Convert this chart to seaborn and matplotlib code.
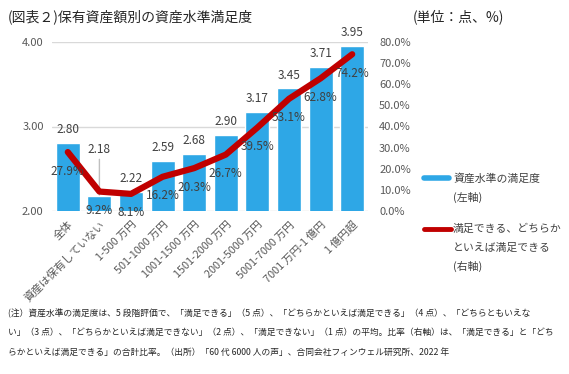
import numpy as np
import matplotlib
matplotlib.use('Agg')
import matplotlib.pyplot as plt
from matplotlib.lines import Line2D
import seaborn as sns

# data
categories = ['全体', '資産は保有していない', '1-500 万円', '501-1000 万円',
              '1001-1500 万円', '1501-2000 万円', '2001-5000 万円',
              '5001-7000 万円', '7001 万円-1 億円', '1 億円超']
scores = [2.80, 2.18, 2.22, 2.59, 2.68, 2.90, 3.17, 3.45, 3.71, 3.95]
ratios = [27.9, 9.2, 8.1, 16.2, 20.3, 26.7, 39.5, 53.1, 62.8, 74.2]

sns.set_theme(style='white')
plt.rcParams['font.family'] = ['Noto Sans CJK JP', 'DejaVu Sans']

BLUE = '#2EA7E6'
RED = '#C00000'
GRAY = '#404040'

fig = plt.figure(figsize=(5.69, 3.74), dpi=100)
ax = fig.add_axes([52 / 569, 1 - 211 / 374, 316 / 569, 169 / 374])

sns.barplot(x=categories, y=scores, ax=ax, color=BLUE, saturation=1,
            width=0.76, zorder=2)
ax.set_ylim(2.0, 4.0)
ax.set_xlim(-0.5, len(categories) - 0.5)
ax.set_yticks([2.0, 3.0, 4.0])
ax.set_yticklabels([f'{v:.2f}' for v in [2.0, 3.0, 4.0]], color='#595959', fontsize=8)
ax.yaxis.grid(True, color='#D9D9D9', linewidth=1)
ax.set_axisbelow(True)
for s in ax.spines.values():
    s.set_visible(False)
ax.set_xlabel('')
ax.set_ylabel('')
ax.tick_params(axis='both', length=0, pad=6)
ax.set_xticks(range(len(categories)))
ax.set_xticklabels(categories, rotation=45, ha='right', rotation_mode='anchor',
                   color='#595959', fontsize=7.8)

# bar value labels
for i, v in enumerate(scores):
    if i == 1:
        ax.annotate(f'{v:.2f}', xy=(i, v + 0.01), xytext=(0, 28),
                    textcoords='offset points', ha='center', va='bottom',
                    fontsize=8.5, color=GRAY,
                    arrowprops=dict(arrowstyle='-', color='#BFBFBF', lw=1,
                                    shrinkA=0, shrinkB=0))
    else:
        ax.annotate(f'{v:.2f}', xy=(i, v), xytext=(0, 5),
                    textcoords='offset points', ha='center', va='bottom',
                    fontsize=8.5, color=GRAY)

ax2 = ax.twinx()
sns.lineplot(x=np.arange(len(ratios)), y=ratios, ax=ax2, color=RED,
             linewidth=4.5, solid_capstyle='round', zorder=3)
ax2.set_ylim(0, 80)
ax2.set_yticks(np.arange(0, 81, 10))
ax2.set_yticklabels([f'{v:.1f}%' for v in np.arange(0, 81, 10)],
                    color='#595959', fontsize=8)
ax2.tick_params(axis='y', length=0, pad=8)
for s in ax2.spines.values():
    s.set_visible(False)
ax2.set_ylabel('')

for i, r in enumerate(ratios):
    ax2.annotate(f'{r:.1f}%', xy=(i, r), xytext=(0, -9),
                 textcoords='offset points', ha='center', va='top',
                 fontsize=8.5, color=GRAY, zorder=4)

# title and unit
fig.text(8 / 569, 1 - 17 / 374, '(図表２)保有資産額別の資産水準満足度',
         fontsize=10, color='#262626', va='center', ha='left')
fig.text(413 / 569, 1 - 17 / 374, '(単位：点、%)',
         fontsize=10, color='#262626', va='center', ha='left')

# legend drawn by hand
fig.add_artist(Line2D([424 / 569, 449 / 569], [1 - 178 / 374] * 2,
                      color=BLUE, linewidth=4, transform=fig.transFigure))
fig.text(453 / 569, 1 - 178 / 374, '資産水準の満足度', fontsize=7.8,
         color='#404040', va='center')
fig.text(453 / 569, 1 - 197 / 374, '(左軸)', fontsize=7.8,
         color='#404040', va='center')
fig.add_artist(Line2D([424 / 569, 451 / 569], [1 - 229 / 374] * 2,
                      color=RED, linewidth=3.5, transform=fig.transFigure))
fig.text(453 / 569, 1 - 229 / 374, '満足できる、どちらか', fontsize=7.8,
         color='#404040', va='center')
fig.text(453 / 569, 1 - 248 / 374, 'といえば満足できる', fontsize=7.8,
         color='#404040', va='center')
fig.text(453 / 569, 1 - 266 / 374, '(右軸)', fontsize=7.8,
         color='#404040', va='center')

# footnote
notes = [
    '(注）資産水準の満足度は、5 段階評価で、「満足できる」（5 点）、「どちらかといえば満足できる」（4 点）、「どちらともいえな',
    'い」（3 点）、「どちらかといえば満足できない」（2 点）、「満足できない」（1 点）の平均。比率（右軸）は、「満足できる」と「どち',
    'らかといえば満足できる」の合計比率。（出所）「60 代 6000 人の声」、合同会社フィンウェル研究所、2022 年',
]
for k, line in enumerate(notes):
    fig.text(8 / 569, 1 - (313 + 19.5 * k) / 374, line, fontsize=6.3,
             color='#262626', va='center', ha='left')

fig.savefig('out.png', dpi=100)
